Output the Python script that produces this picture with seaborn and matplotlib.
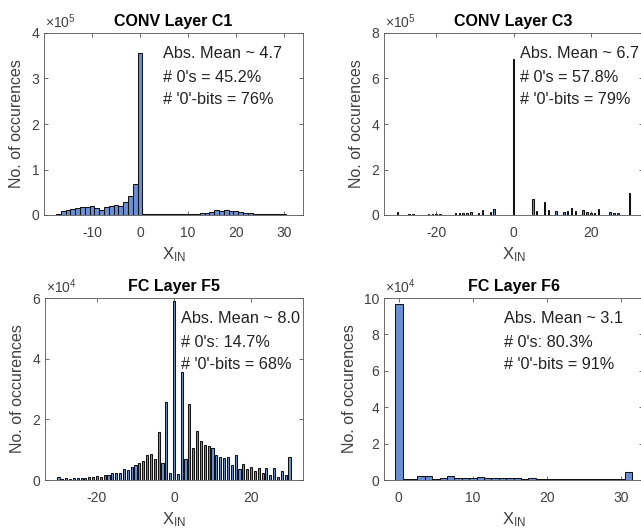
import matplotlib
matplotlib.use("Agg")
import matplotlib.pyplot as plt
import seaborn as sns
from matplotlib.ticker import FuncFormatter, FixedLocator

# ---------------- data ----------------
c1_x = list(range(-17, 32))
c1_counts = [3000, 8000, 11000, 13000, 15000, 18000, 17500, 20000, 16000, 10000,
             17000, 20000, 21000, 20500, 28000, 42000, 69000,
             355000,
             3000, 3000, 3000, 2500, 2500, 2500, 2500, 2500, 3000, 3000, 3000, 3000, 3500, 4000,
             6000, 10000, 8000, 10000, 9000, 9000, 6000, 5000, 4000, 3000, 3000, 2500, 2500,
             2000, 2000, 1500, 1000]

c3_x = [-30, -27, -26, -22, -21, -20, -19, -15, -14, -13, -12, -11, -9, -8, -6, -5,
        0, 5, 6, 8, 9, 11, 13, 14, 15, 16, 18, 19, 20, 21, 22, 25, 26, 27, 30]
c3_counts = [12000, 5000, 4000, 6000, 6000, 4000, 5000, 8000, 8000, 7000, 7000,
             15000, 10000, 22000, 15000, 28000,
             684000, 70000, 18000, 58000, 22000, 18000, 12000, 18000, 30000, 16000,
             20000, 15000, 9000, 9000, 25000, 13000, 9000, 9000, 95000]

f5_x = list(range(-30, 31))
f5_counts = [900, 300, 500, 400, 700, 500, 800, 800, 1100, 900, 1300, 900, 1700,
             1500, 2300, 2300, 2200, 3500, 3300, 4300, 5000, 5600, 6300, 8300, 8700, 7000,
             15900, 5500, 25800, 2200, 59000, 2100, 35600, 6800, 25200,
             10600, 16100, 12800, 11500, 11300, 10600, 8400, 7700, 7100, 7600, 4900,
             8200, 3600, 5200, 3600, 4200, 3000, 3800, 2200, 3800, 1600, 3800, 1100,
             3000, 1500, 7500]

f6_x = list(range(0, 32))
f6_counts = [96500, 300, 300, 2400, 2400, 500, 1300, 2200, 1300, 900, 1300, 1500,
             1100, 900, 1300, 1300, 900, 800, 1300, 700, 700, 600, 600, 600, 600,
             600, 600, 600, 600, 600, 600, 4600]

titles = ["CONV Layer C1", "CONV Layer C3", "FC Layer F5", "FC Layer F6"]
notes = [["Abs. Mean ~ 4.7", "# 0's = 45.2%", "# '0'-bits = 76%"],
         ["Abs. Mean ~ 6.7", "# 0's = 57.8%", "# '0'-bits = 79%"],
         ["Abs. Mean ~ 8.0", "# 0's: 14.7%", "# '0'-bits = 68%"],
         ["Abs. Mean ~ 3.1", "# 0's: 80.3%", "# '0'-bits = 91%"]]
exponents = [5, 5, 4, 4]
xlims = [(-20, 34), (-33.5, 33.5), (-33.5, 33.5), (-2, 33)]
ylims = [4e5, 8e5, 6e4, 1e5]
xticks = [[-10, 0, 10, 20, 30], [-20, 0, 20], [-20, 0, 20], [0, 10, 20, 30]]
yticks = [[0, 1, 2, 3, 4], [0, 2, 4, 6, 8], [0, 2, 4, 6], [0, 2, 4, 6, 8, 10]]
shrinks = [1.0, 0.4, 0.55, 1.0]
note_x = [0.458, 0.526, 0.527, 0.462]

# ---------------- style ----------------
sns.set_theme(style="white")
plt.rcParams.update({
    "font.family": ["Liberation Sans", "DejaVu Sans"],
    "mathtext.fontset": "custom",
    "mathtext.rm": "Liberation Sans",
    "mathtext.it": "Liberation Sans:italic",
    "mathtext.bf": "Liberation Sans:bold",
    "xtick.direction": "in", "ytick.direction": "in",
    "xtick.top": True, "ytick.right": True,
    "xtick.bottom": True, "ytick.left": True,
    "xtick.major.size": 3, "ytick.major.size": 3,
    "xtick.major.width": 0.6, "ytick.major.width": 0.6,
    "xtick.major.pad": 8, "ytick.major.pad": 3.5,
    "axes.linewidth": 0.6,
    "axes.edgecolor": "#555555",
    "xtick.color": "#555555", "ytick.color": "#555555",
    "xtick.labelcolor": "#404040", "ytick.labelcolor": "#404040",
})

BAR = "#6b8fd3"
GRAY = "#404040"

fig = plt.figure(figsize=(6.41, 5.29), dpi=100)
W = 641.0
H = 529.0
boxes = [(44, 33, 259, 182), (384, 33, 259, 182), (45, 298, 258, 182), (384, 298, 259, 182)]
datasets = [(c1_x, c1_counts), (c3_x, c3_counts), (f5_x, f5_counts), (f6_x, f6_counts)]

for i in range(4):
    l, t, w, h = boxes[i]
    ax = fig.add_axes([l / W, 1 - (t + h) / H, w / W, h / H])
    xs, cs = datasets[i]
    sns.histplot(x=xs, weights=cs, discrete=True, shrink=shrinks[i], ax=ax,
                 color=BAR, edgecolor="#111111", linewidth=0.75, alpha=1.0)
    ax.set_xlim(*xlims[i])
    ax.set_ylim(0, ylims[i])
    scale = 10 ** exponents[i]
    ax.yaxis.set_major_locator(FixedLocator([v * scale for v in yticks[i]]))
    ax.yaxis.set_major_formatter(FuncFormatter(lambda v, p, s=scale: f"{v / s:g}"))
    ax.xaxis.set_major_locator(FixedLocator(xticks[i]))
    ax.xaxis.set_major_formatter(FuncFormatter(lambda v, p: f"{v:g}"))
    ax.tick_params(labelsize=10)
    for s in ax.spines.values():
        s.set_visible(True)
    ax.set_ylabel("No. of occurences", fontsize=11.5, color=GRAY, labelpad=5)
    ax.set_xlabel(r"X$_{\mathrm{IN}}$", fontsize=12, color=GRAY, labelpad=4)
    ax.text(0.5, 1.063, titles[i], transform=ax.transAxes, ha="center", va="center",
            fontsize=11.5, fontweight="bold", color="black")
    ax.text(0.005, 1.01, r"$\times$10$^{%d}$" % exponents[i], transform=ax.transAxes,
            ha="left", va="bottom", fontsize=10, color=GRAY)
    for k, ny in enumerate([0.885, 0.758, 0.637]):
        ax.text(note_x[i], ny, notes[i][k], transform=ax.transAxes, ha="left", va="center",
                fontsize=11.7, color="#222222")

fig.savefig("out.png", dpi=100)
